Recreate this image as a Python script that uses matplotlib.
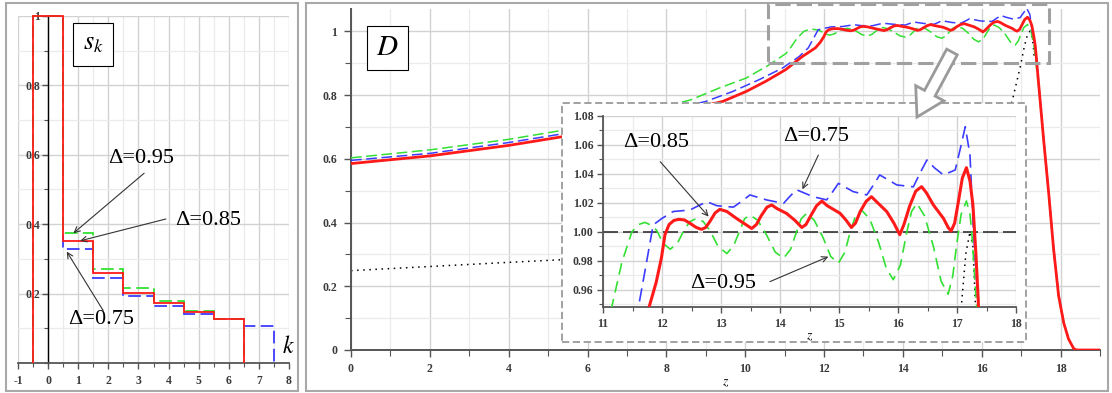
import numpy as np
import matplotlib
matplotlib.use('Agg')
import matplotlib.pyplot as plt
from matplotlib.patches import Rectangle, FancyArrow
from matplotlib.ticker import MultipleLocator, FixedLocator
from matplotlib.transforms import IdentityTransform

plt.rcParams['font.family'] = ['Liberation Serif', 'DejaVu Serif']
plt.rcParams['mathtext.fontset'] = 'stix'

# ---------------- data: left panel (s_k) ----------------
s_red = [1.0, 0.353, 0.260, 0.203, 0.172, 0.148, 0.128]
s_green = [1.0, 0.374, 0.270, 0.216, 0.179, 0.151, 0.128]
s_blue = [1.0, 0.328, 0.246, 0.194, 0.165, 0.141, 0.127, 0.108]

# ---------------- data: right panel D(z) ----------------
red_z = [0, 2, 4, 5.3, 6.5, 8, 9.43, 10.02, 10.52, 11.03, 11.45,
         11.78, 11.90, 11.99, 12.05, 12.12, 12.20, 12.28, 12.38, 12.47, 12.58,
         12.67, 12.74, 12.81, 12.90, 12.98, 13.10, 13.27, 13.42, 13.52, 13.60,
         13.68, 13.78, 13.86, 13.95, 14.11, 14.25, 14.37, 14.44, 14.52, 14.62,
         14.71, 14.80, 15.02, 15.12, 15.21, 15.28, 15.36, 15.46, 15.55, 15.63,
         15.81, 15.93, 16.03, 16.10, 16.20, 16.30, 16.40, 16.48, 16.60, 16.77,
         16.85, 16.90, 16.96, 17.02, 17.09, 17.16, 17.22, 17.27, 17.32, 17.36,
         17.44, 17.57, 17.70, 17.82, 17.95, 18.08, 18.20, 18.33, 18.40, 19.0]
red_D = [0.585, 0.609, 0.642, 0.668, 0.697, 0.738, 0.780, 0.811, 0.843, 0.880, 0.921,
         0.948, 0.965, 0.982, 0.998, 1.005, 1.0078, 1.0086, 1.0082, 1.006, 1.003,
         1.0017, 1.003, 1.007, 1.013, 1.0155, 1.014, 1.009, 1.005, 1.0023, 1.005,
         1.011, 1.017, 1.0185, 1.016, 1.0127, 1.008, 1.003, 1.005, 1.011, 1.018,
         1.0212, 1.018, 1.0127, 1.008, 1.003, 1.006, 1.014, 1.021, 1.0242, 1.021,
         1.0139, 1.006, 0.998, 1.005, 1.018, 1.028, 1.0311, 1.027, 1.0185, 1.0093,
         1.003, 1.0005, 1.006, 1.020, 1.037, 1.0442, 1.035, 1.0185, 0.985, 0.953,
         0.84, 0.66, 0.49, 0.32, 0.17, 0.085, 0.035, 0.005, 0.0, 0.0]

blue_z = [0, 2, 4, 5.3, 6.5, 8, 9.0, 9.68, 10.35, 10.95, 11.37,
          11.60, 11.72, 11.85, 11.99, 12.19, 12.47, 12.62, 12.76, 12.93, 13.21,
          13.35, 13.49, 13.77, 14.06, 14.18, 14.28, 14.56, 14.79, 14.90, 14.99,
          15.24, 15.47, 15.58, 15.69, 15.98, 16.26, 16.38, 16.49, 16.62, 16.77,
          16.97, 17.06, 17.14, 17.22, 17.28, 17.36,
          17.44, 17.57, 17.70, 17.82, 17.95, 18.08, 18.20, 18.33, 18.40, 19.0]
blue_D = [0.595, 0.617, 0.651, 0.677, 0.707, 0.750, 0.780, 0.811, 0.848, 0.885, 0.921,
          0.948, 0.975, 1.0047, 1.009, 1.014, 1.015, 1.018, 1.0208, 1.018, 1.017,
          1.021, 1.0254, 1.022, 1.0196, 1.025, 1.029, 1.0242, 1.022, 1.028, 1.0334,
          1.0277, 1.0254, 1.032, 1.0392, 1.0323, 1.031, 1.041, 1.0495, 1.044, 1.0392,
          1.0426, 1.058, 1.0724, 1.053, 1.0, 0.95,
          0.845, 0.665, 0.495, 0.325, 0.175, 0.088, 0.036, 0.005, 0.0, 0.0]

green_z = [0, 2, 4, 5.3, 6.5, 8, 8.62, 9.34, 10.02, 10.61, 11.03,
           11.15, 11.32, 11.49, 11.60, 11.71, 11.82, 11.91, 12.02, 12.14, 12.26,
           12.36, 12.47, 12.59, 12.70, 12.81, 12.95, 13.10, 13.22, 13.32, 13.40,
           13.49, 13.62, 13.77, 13.92, 14.06, 14.18, 14.28, 14.36, 14.45, 14.58,
           14.73, 14.86, 14.99, 15.10, 15.19, 15.28, 15.38, 15.52, 15.67, 15.80,
           15.92, 16.04, 16.15, 16.23, 16.32, 16.45, 16.60, 16.73, 16.85, 16.93,
           16.99, 17.07, 17.16, 17.22, 17.25, 17.33,
           17.44, 17.57, 17.70, 17.82, 17.95, 18.08, 18.20, 18.33, 18.40, 19.0]
green_D = [0.603, 0.628, 0.661, 0.688, 0.718, 0.765, 0.785, 0.822, 0.853, 0.895, 0.930,
           0.9485, 0.979, 1.0, 1.005, 1.0065, 1.0045, 1.001, 0.992, 0.988, 0.992,
           1.0, 1.007, 1.0093, 1.007, 1.001, 0.990, 0.985, 0.991, 1.001, 1.009,
           1.0116, 1.008, 0.998, 0.986, 0.9818, 0.988, 1.0, 1.009, 1.0127, 1.008,
           0.996, 0.983, 0.9784, 0.986, 1.0, 1.011, 1.015, 1.009, 0.993, 0.975,
           0.967, 0.977, 1.0, 1.014, 1.0196, 1.011, 0.99, 0.966, 0.957, 0.97,
           0.99, 1.012, 1.0212, 1.012, 1.0, 0.95,
           0.83, 0.655, 0.485, 0.315, 0.168, 0.084, 0.034, 0.005, 0.0, 0.0]

dot_z = [0, 2, 4, 5.3, 8, 11, 14, 16, 16.5, 16.77, 16.98, 17.08, 17.15, 17.22, 17.27, 17.31, 17.33]
dot_D = [0.249, 0.262, 0.275, 0.283, 0.31, 0.36, 0.47, 0.62, 0.70, 0.78, 0.89, 0.952, 0.985,
         1.0, 0.99, 0.952, 0.92]

# ---------------- styling ----------------
RED = '#ff1a1a'
BLUE = '#3c3cff'
GREEN = '#33e033'
GRID_MAJ = '#d2d2d2'
GRID_MIN = '#ebebeb'
AX_COL = '#555555'
TICK_COL = '#3a3a3a'
TICK_FS = 8.5

W, H = 1112, 393
fig = plt.figure(figsize=(W / 100, H / 100), dpi=100)


def fx(px):
    return px / W


def fy(py):
    return 1 - py / H


def frect(x0, y0, x1, y1, **kw):
    r = Rectangle((fx(x0), fy(y1)), (x1 - x0) / W, (y1 - y0) / H,
                  transform=fig.transFigure, **kw)
    fig.add_artist(r)
    return r


def style_ticklabels(ax):
    for lab in ax.get_xticklabels() + ax.get_yticklabels():
        lab.set_fontweight('bold')


# panel frames
frect(5.5, 3, 298, 390.5, fill=False, ec='#a8a8a8', lw=1.5, zorder=0)
frect(306, 3, 1108, 390.5, fill=False, ec='#a8a8a8', lw=1.5, zorder=0)

# ================= LEFT PANEL =================
axL = fig.add_axes([fx(18), fy(363), (289 - 18) / W, (363 - 16) / H])
axL.set_xlim(-1, 8)
axL.set_ylim(0, 1.0)
axL.patch.set_alpha(0)
for sp in ['top', 'right']:
    axL.spines[sp].set_visible(False)
axL.spines['left'].set_position(('data', 0))
axL.spines['left'].set_color('black')
axL.spines['left'].set_linewidth(1.0)
axL.spines['bottom'].set_color(AX_COL)
axL.spines['bottom'].set_linewidth(1.3)
axL.xaxis.set_minor_locator(MultipleLocator(0.5))
axL.yaxis.set_minor_locator(MultipleLocator(0.1))
axL.set_yticks([0.2, 0.4, 0.6, 0.8, 1.0])
axL.set_yticklabels(['0.2', '0.4', '0.6', '0.8', '1'])
axL.set_xticks(range(-1, 9))
axL.set_xticklabels([str(i) for i in range(-1, 9)])
axL.tick_params(which='both', direction='out', colors=AX_COL, labelcolor=TICK_COL,
                labelsize=TICK_FS)
axL.tick_params(which='major', length=4, width=1)
axL.tick_params(which='minor', length=3, width=0.8)
axL.tick_params(axis='x', pad=5)
axL.tick_params(axis='y', pad=2)
axL.grid(which='major', color=GRID_MAJ, lw=1.0, zorder=0)
axL.grid(which='minor', color=GRID_MIN, lw=0.9, zorder=0)
axL.set_axisbelow(True)
style_ticklabels(axL)

axL.stairs(s_blue, np.arange(len(s_blue) + 1) - 0.5, baseline=0, color=BLUE,
           lw=1.3, ls=(0, (7, 3)), zorder=3, clip_on=False)
axL.stairs(s_green, np.arange(len(s_green) + 1) - 0.5, baseline=0, color=GREEN,
           lw=1.3, ls=(0, (7, 3)), zorder=4, clip_on=False)
axL.stairs(s_red, np.arange(len(s_red) + 1) - 0.5, baseline=0, color=RED,
           lw=1.3, zorder=5, clip_on=False)

axL.add_patch(Rectangle((0.84, 0.857), 1.33, 0.122, fc='white', ec='black', lw=0.8, zorder=6))
axL.text(1.5, 0.918, '$s_k$', fontsize=19, ha='center', va='center', zorder=7)
axL.text(7.97, 0.047, '$k$', fontsize=17, ha='center', va='center', zorder=7)


def arrow(ax, start, tip):
    ax.annotate('', xy=tip, xytext=start,
                arrowprops=dict(arrowstyle='->', color='#333333', lw=0.8,
                                shrinkA=0, shrinkB=0, mutation_scale=10), zorder=8)


axL.text(1.99, 0.588, 'Δ=0.95', fontsize=16, ha='left', va='center', zorder=8)
arrow(axL, (3.19, 0.547), (0.84, 0.374))
axL.text(4.22, 0.411, 'Δ=0.85', fontsize=16, ha='left', va='center', zorder=8)
arrow(axL, (3.91, 0.415), (1.06, 0.352))
axL.text(0.66, 0.124, 'Δ=0.75', fontsize=16, ha='left', va='center', zorder=8)
arrow(axL, (1.83, 0.151), (0.62, 0.321))

# ================= RIGHT PANEL (main) =================
axM = fig.add_axes([fx(351), fy(350), (1100 - 351) / W, (350 - 9) / H])
axM.set_zorder(1)
axM.set_xlim(0, 19)
axM.set_ylim(0, 1.07)
axM.patch.set_alpha(0)
for sp in ['top', 'right']:
    axM.spines[sp].set_visible(False)
for sp in ['left', 'bottom']:
    axM.spines[sp].set_color(AX_COL)
    axM.spines[sp].set_linewidth(1.4)
axM.xaxis.set_minor_locator(MultipleLocator(1))
axM.yaxis.set_minor_locator(MultipleLocator(0.1))
axM.set_xticks(range(0, 19, 2))
axM.set_xticklabels([str(i) for i in range(0, 19, 2)])
axM.set_yticks([0, 0.2, 0.4, 0.6, 0.8, 1.0])
axM.set_yticklabels(['0', '0.2', '0.4', '0.6', '0.8', '1'])
axM.tick_params(which='both', direction='out', colors=AX_COL, labelcolor=TICK_COL,
                labelsize=TICK_FS)
axM.tick_params(which='major', length=5, width=1)
axM.tick_params(which='minor', length=4, width=0.8)
axM.tick_params(axis='x', pad=4)
axM.tick_params(axis='y', pad=5)
axM.grid(which='major', color=GRID_MAJ, lw=1.0)
axM.grid(which='minor', color=GRID_MIN, lw=0.9)
axM.set_axisbelow(True)
axM.set_xlabel('$z$', fontsize=10, labelpad=1)
style_ticklabels(axM)

axM.plot(dot_z, dot_D, color='black', lw=1.1, ls=(0, (1, 3)), zorder=2)
axM.plot(green_z, green_D, color=GREEN, lw=1.1, ls=(0, (7, 3)), zorder=3)
axM.plot(blue_z, blue_D, color=BLUE, lw=1.1, ls=(0, (7, 3)), zorder=4)
axM.plot(red_z, red_D, color=RED, lw=2.0, zorder=5)

axM.add_patch(Rectangle((0.40, 0.88), 1.035, 0.136, fc='white', ec='black', lw=0.8, zorder=6))
axM.text(0.92, 0.948, '$D$', fontsize=21, ha='center', va='center', zorder=7)

# inset background box
frect(562, 103, 1026, 342, fc='white', ec='#9a9a9a', lw=1.3, ls=(0, (4, 2)), zorder=2)
# zoom-region box
frect(768, 4, 1049, 63, fill=False, ec='#a0a0a0', lw=2.2, ls=(0, (5, 2)), zorder=4)
# hollow arrow (display coordinates)
fa = FancyArrow(952, H - 52, -35, -65, width=12, head_width=32, head_length=27,
                length_includes_head=True, transform=IdentityTransform(),
                fc='white', ec='#9a9a9a', lw=2.0, zorder=5)
fig.add_artist(fa)

# ================= INSET =================
axI = fig.add_axes([fx(603), fy(307.3), (1016 - 603) / W, (307.3 - 115.7) / H])
axI.set_zorder(3)
axI.set_xlim(11, 18)
axI.set_ylim(0.948, 1.08)
axI.set_facecolor('white')
for sp in ['top', 'right']:
    axI.spines[sp].set_visible(False)
for sp in ['left', 'bottom']:
    axI.spines[sp].set_color(AX_COL)
    axI.spines[sp].set_linewidth(1.3)
axI.xaxis.set_minor_locator(MultipleLocator(0.5))
axI.yaxis.set_minor_locator(FixedLocator([0.95, 0.97, 0.99, 1.01, 1.03, 1.05, 1.07]))
axI.set_xticks(range(11, 19))
axI.set_xticklabels([str(i) for i in range(11, 19)])
yt = [0.96, 0.98, 1.00, 1.02, 1.04, 1.06, 1.08]
axI.set_yticks(yt)
axI.set_yticklabels([f'{v:.2f}' for v in yt])
axI.tick_params(which='both', direction='out', colors=AX_COL, labelcolor=TICK_COL,
                labelsize=TICK_FS)
axI.tick_params(which='major', length=4, width=1)
axI.tick_params(which='minor', length=3, width=0.8)
axI.tick_params(axis='x', pad=4)
axI.tick_params(axis='y', pad=3)
axI.grid(which='major', color=GRID_MAJ, lw=1.0)
axI.grid(which='minor', color=GRID_MIN, lw=0.9)
axI.set_axisbelow(True)
axI.set_xlabel('$z$', fontsize=10, labelpad=0)
style_ticklabels(axI)

axI.axhline(1.0, color='#333333', lw=1.2, ls=(0, (9, 3)), zorder=2)
axI.plot(dot_z, dot_D, color='black', lw=1.1, ls=(0, (1, 3)), zorder=2)
axI.plot(green_z, green_D, color=GREEN, lw=1.2, ls=(0, (7, 4)), zorder=3)
axI.plot(blue_z, blue_D, color=BLUE, lw=1.2, ls=(0, (8, 4)), zorder=4)
axI.plot(red_z, red_D, color=RED, lw=2.2, zorder=5)

axI.text(11.34, 1.0614, 'Δ=0.85', fontsize=16, ha='left', va='center', zorder=8)
arrow(axI, (11.97, 1.0483), (12.79, 1.0105))
axI.text(14.06, 1.0655, 'Δ=0.75', fontsize=16, ha='left', va='center', zorder=8)
arrow(axI, (14.65, 1.0529), (14.38, 1.0293))
axI.text(12.47, 0.9646, 'Δ=0.95', fontsize=16, ha='left', va='center', zorder=8)
arrow(axI, (13.83, 0.9657), (14.82, 0.9829))

fig.savefig('out.png', dpi=100)
